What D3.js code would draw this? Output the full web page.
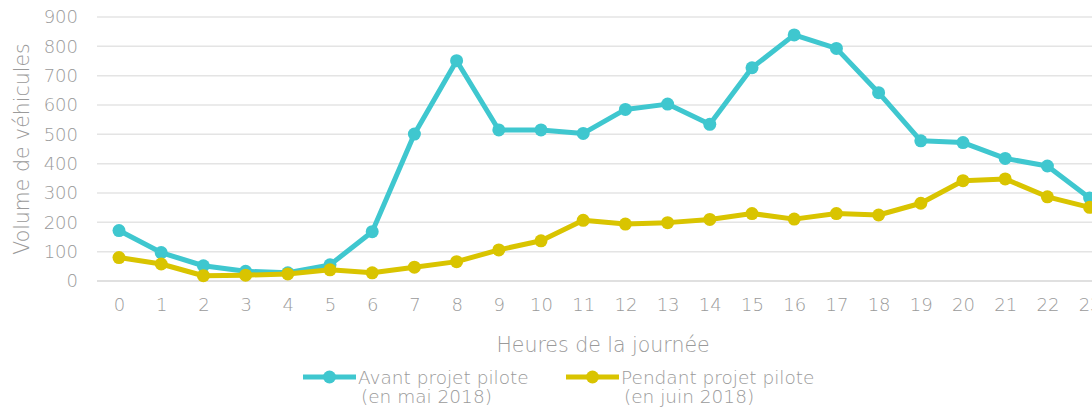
<!DOCTYPE html>
<html><head><meta charset="utf-8">
<script src="https://cdn.jsdelivr.net/npm/d3@7"></script>
<style>
body{margin:0;background:#fff;overflow:hidden}
text{font-family:"DejaVu Sans",sans-serif;font-weight:200;fill:#9a9a9a}
</style></head><body>
<svg id="c" width="1092" height="410"></svg>
<script>
const hours = [0,1,2,3,4,5,6,7,8,9,10,11,12,13,14,15,16,17,18,19,20,21,22,23];
const avant = [172,97,52,33,28,55,168,501,751,515,515,503,585,603,534,727,839,793,642,478,472,418,392,283];
const pendant = [80,58,18,20,24,38,28,47,66,106,137,207,194,199,210,230,211,230,225,265,342,348,287,251];
const yTicks = [0,100,200,300,400,500,600,700,800,900];
const seriesNames = [["Avant projet pilote","(en mai 2018)"],["Pendant projet pilote","(en juin 2018)"]];
const colors = ["#3fc7cf","#d9c400"];
const xTitle = "Heures de la journée";
const yTitle = "Volume de véhicules";

const svg = d3.select("#c");
const x = d3.scaleLinear().domain([0,23]).range([119,1089.6]);
const y = d3.scaleLinear().domain([0,900]).range([281,17]);

// grid
svg.append("g").selectAll("line").data(yTicks).join("line")
  .attr("x1",97).attr("x2",1092)
  .attr("y1",d=>y(d)).attr("y2",d=>y(d))
  .attr("stroke",d=>d===0?"#d6d6d6":"#e4e4e4").attr("stroke-width",1.5);

// y axis labels
const ya = svg.append("g").attr("transform","translate(78,0)")
  .call(d3.axisLeft(y).tickValues(yTicks).tickSize(0).tickPadding(0));
ya.select(".domain").remove();
ya.selectAll("text").style("font-size","18px").attr("fill","#9a9a9a")
  .style("font-family","'DejaVu Sans',sans-serif").style("font-weight","200");

// x axis labels
const xa = svg.append("g").attr("transform","translate(0,298)")
  .call(d3.axisBottom(x).tickValues(hours).tickFormat(d3.format("d")).tickSize(0).tickPadding(0));
xa.select(".domain").remove();
xa.selectAll("text").style("font-size","18px").attr("fill","#9a9a9a")
  .style("font-family","'DejaVu Sans',sans-serif").style("font-weight","200");

// titles
svg.append("text").attr("x",603).attr("y",352).attr("text-anchor","middle").style("font-size","20.5px").text(xTitle);
svg.append("text").attr("transform","translate(29,149) rotate(-90)").attr("text-anchor","middle").style("font-size","20.5px").text(yTitle);

// lines
const line = d3.line().x((d,i)=>x(hours[i])).y(d=>y(d));
[avant,pendant].forEach((s,k)=>{
  svg.append("path").datum(s).attr("d",line).attr("fill","none")
    .attr("stroke",colors[k]).attr("stroke-width",5).attr("stroke-linejoin","round");
  svg.append("g").selectAll("circle").data(s).join("circle")
    .attr("cx",(d,i)=>x(hours[i])).attr("cy",d=>y(d)).attr("r",6.5).attr("fill",colors[k]);
});

// legend
const lg = [{x:303},{x:566}];
lg.forEach((p,k)=>{
  const g = svg.append("g");
  g.append("line").attr("x1",p.x).attr("x2",p.x+53).attr("y1",377).attr("y2",377)
    .attr("stroke",colors[k]).attr("stroke-width",5);
  g.append("circle").attr("cx",p.x+26.5).attr("cy",377).attr("r",6.5).attr("fill",colors[k]);
  g.append("text").attr("x",p.x+55).attr("y",384).style("font-size","18.5px").text(seriesNames[k][0]);
  g.append("text").attr("x",p.x+58).attr("y",403).style("font-size","18.5px").text(seriesNames[k][1]);
});
</script>
</body></html>
